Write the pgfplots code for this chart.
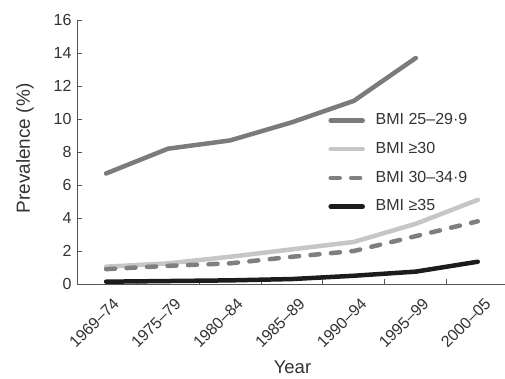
\documentclass[border=0pt]{standalone}
\usepackage{pgfplots}
\pgfplotsset{compat=1.18}
\usepackage{fontspec}
\setmainfont{Liberation Sans}
\definecolor{dgray}{HTML}{7B7B7B}
\definecolor{lgray}{HTML}{C6C6C6}
\definecolor{mgray}{HTML}{7F7F7F}
\definecolor{blk}{HTML}{1C1C1C}
\definecolor{axcol}{HTML}{555555}
\definecolor{txt}{HTML}{333333}
\begin{document}
\begin{tikzpicture}
\begin{axis}[
  name=ax,
  scale only axis, width=428pt, height=264pt,
  xmin=-0.47, xmax=6.44, ymin=0, ymax=16,
  axis x line=bottom, axis y line=left,
  axis line style={-, draw=axcol, line width=0.9pt},
  tick align=inside,
  major tick length=5pt, minor tick length=5pt,
  tick style={draw=axcol, line width=0.9pt},
  ytick={0,2,...,16},
  xtick={0,...,6},
  xticklabels={1969–74,1975–79,1980–84,1985–89,1990–94,1995–99,2000–05},
  minor xtick={0.5,1.5,...,5.5},
  every major x tick/.append style={draw=none},
  /pgf/number format/assume math mode=true,
  tick label style={font=\fontsize{16}{19}\selectfont, text=txt},
  yticklabel style={xshift=-2pt},
  xticklabel style={xshift=6pt, yshift=-8pt, rotate=45, anchor=north east},
  ylabel={Prevalence (\%)},
  ylabel style={at={(axis description cs:-0.1215,0.513)}, anchor=center, font=\fontsize{19}{22}\selectfont, text=txt},
  xlabel={Year},
  xlabel style={at={(axis description cs:0.5035,-0.314)}, anchor=center, font=\fontsize{18.5}{22}\selectfont, text=txt},
  legend image code/.code={\draw[#1] (0pt,0pt) -- (32pt,0pt);},
  legend style={at={(axis description cs:0.587,0.655)}, anchor=north west,
    draw=none, fill=none, inner sep=0pt, column sep=8.75pt, row sep=10.2pt,
    font=\fontsize{16}{19}\selectfont, text=txt,
    nodes={text height=11.5pt, text depth=3pt, inner sep=2pt}},
  legend cell align=left,
  every axis plot/.append style={line width=4.5pt, line cap=round, line join=round},
]
\addplot[dgray] coordinates {(0,6.7) (1,8.2) (2,8.7) (3,9.8) (4,11.1) (5,13.7)};
\addlegendentry{BMI 25–29·9}
\addplot[lgray] coordinates {(0,1.05) (1,1.25) (2,1.65) (3,2.1) (4,2.55) (5,3.65) (6,5.1)};
\addlegendentry{BMI ≥30}
\addplot[mgray, dash pattern=on 9pt off 11.5pt] coordinates {(0,0.9) (1,1.1) (2,1.25) (3,1.65) (4,2.0) (5,2.9) (6,3.8)};
\addlegendentry{BMI 30–34·9}
\addplot[blk] coordinates {(0,0.14) (1,0.18) (2,0.22) (3,0.3) (4,0.5) (5,0.75) (6,1.35)};
\addlegendentry{BMI ≥35}
\end{axis}
\pgfresetboundingbox
\path[use as bounding box] ([xshift=-77pt,yshift=-95pt]ax.south west) rectangle ([yshift=20pt]ax.north east);
\end{tikzpicture}
\end{document}
